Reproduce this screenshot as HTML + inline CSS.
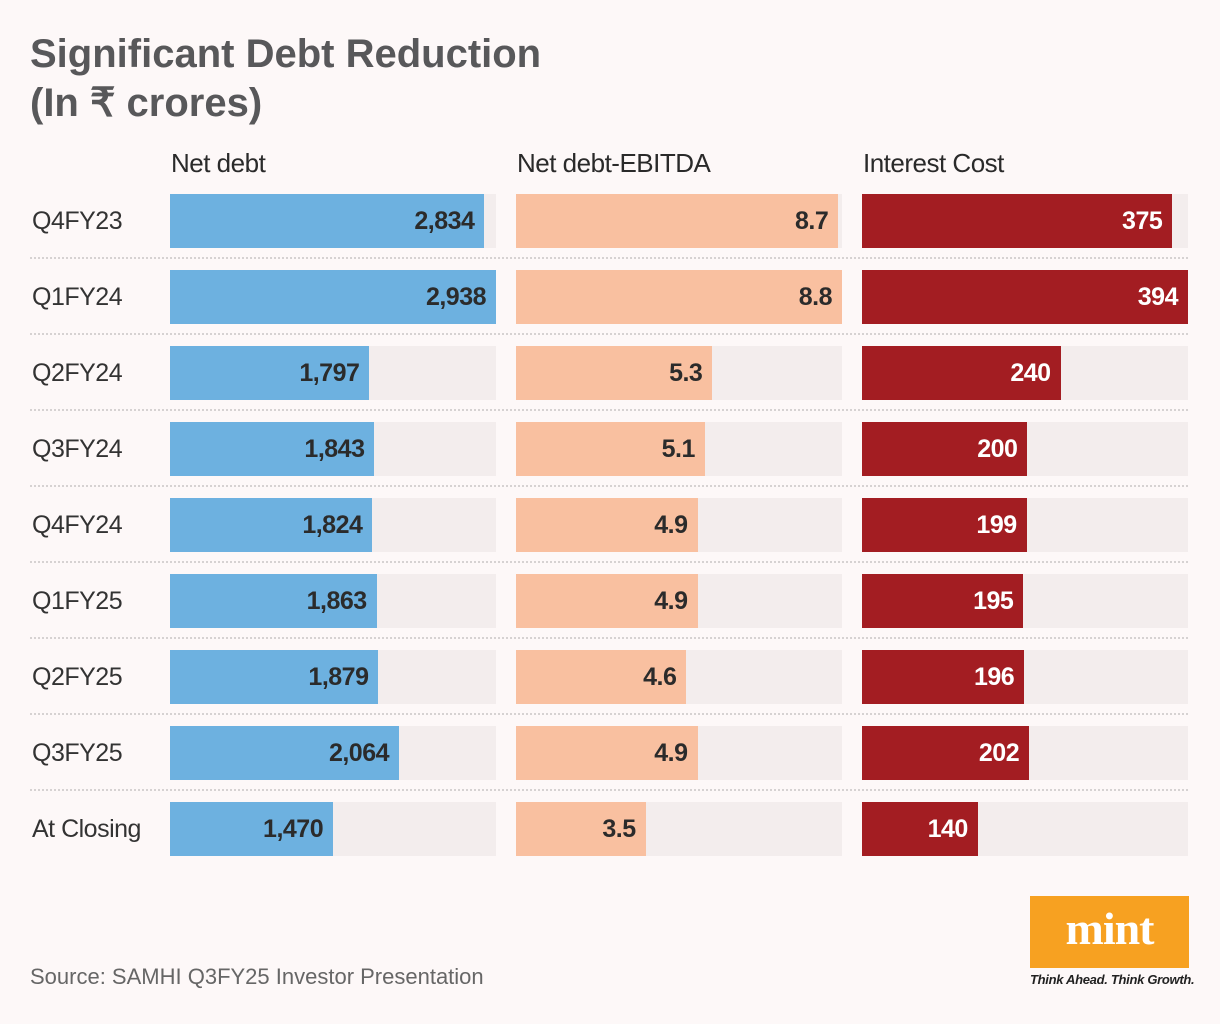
<!DOCTYPE html>
<html><head><meta charset="utf-8"><style>
body{margin:0;background:#fdf8f8;font-family:"Liberation Sans",sans-serif;}
#wrap{position:relative;width:1220px;height:1024px;overflow:hidden;background:#fdf8f8;}
.t{position:absolute;left:30px;font-weight:bold;color:#58585a;font-size:40px;letter-spacing:0px;line-height:48px;}
.h{position:absolute;top:148px;font-size:26px;color:#2a2a2a;letter-spacing:-0.5px;}
.rl{position:absolute;left:32px;font-size:25px;color:#333;letter-spacing:-0.5px;line-height:54px;}
.tr{position:absolute;background:#f3eded;height:54px;}
.b{position:absolute;height:54px;}
.v{position:absolute;font-size:25px;font-weight:bold;color:#2b2b2b;line-height:54px;text-align:right;letter-spacing:-0.5px;}
.sep{position:absolute;left:30px;width:1158px;border-top:2px dotted #d6d2d2;}
</style></head><body><div id="wrap">
<div class="t" style="top:30px">Significant Debt Reduction</div>
<div class="t" style="top:79px">(In ₹ crores)</div>
<div class="h" style="left:171px">Net debt</div>
<div class="h" style="left:517px">Net debt-EBITDA</div>
<div class="h" style="left:863px">Interest Cost</div>
<div id="rows"></div>
<div style="position:absolute;left:30px;top:964px;font-size:22px;color:#666;">Source: SAMHI Q3FY25 Investor Presentation</div>
<div style="position:absolute;left:1030px;top:896px;width:159px;height:72px;background:#f7a121;color:#fff;font-family:'Liberation Serif',serif;font-weight:bold;font-size:46px;text-align:center;line-height:66px;letter-spacing:-1px;">mint</div>
<div style="position:absolute;left:1030px;top:972px;font-size:13px;font-style:italic;color:#222;font-weight:bold;letter-spacing:-0.3px;">Think Ahead. Think Growth.</div>
</div>
<script>
const categories=["Q4FY23","Q1FY24","Q2FY24","Q3FY24","Q4FY24","Q1FY25","Q2FY25","Q3FY25","At Closing"];
const netDebt=[2834,2938,1797,1843,1824,1863,1879,2064,1470];
const netDebtLabels=["2,834","2,938","1,797","1,843","1,824","1,863","1,879","2,064","1,470"];
const debtEbitda=[8.7,8.8,5.3,5.1,4.9,4.9,4.6,4.9,3.5];
const debtEbitdaLabels=["8.7","8.8","5.3","5.1","4.9","4.9","4.6","4.9","3.5"];
const interestCost=[375,394,240,200,199,195,196,202,140];
const interestLabels=["375","394","240","200","199","195","196","202","140"];
const rows=document.getElementById('rows');
const W=326,top0=194,step=76;
const cols=[
 {x:170,vals:netDebt,labs:netDebtLabels,color:'#6db1e0',tc:'#2b2b2b',name:'net-debt'},
 {x:516,vals:debtEbitda,labs:debtEbitdaLabels,color:'#f9c0a0',tc:'#2b2b2b',name:'net-debt-ebitda'},
 {x:862,vals:interestCost,labs:interestLabels,color:'#a31d22',tc:'#fff',name:'interest-cost'}];
cols.forEach(c=>c.max=Math.max(...c.vals));
function add(cls,style,text){const d=document.createElement('div');d.className=cls;Object.assign(d.style,style);if(text!=null)d.textContent=text;rows.appendChild(d);return d;}
categories.forEach((cat,i)=>{
 const y=top0+i*step;
 const l=add('rl',{top:y+'px'},cat);
 
 
 if(i<categories.length-1){const s=add('sep',{top:(y+63)+'px'});
  
  }
 cols.forEach(c=>{
  const t=add('tr',{left:c.x+'px',top:y+'px',width:W+'px'});
  
  
  const w=c.vals[i]/c.max*W;
  const b=add('b',{left:c.x+'px',top:y+'px',width:w+'px',background:c.color});
  
  
  const v=add('v',{left:c.x+'px',top:y+'px',width:(w-10)+'px',color:c.tc},c.labs[i]);
  
  
 });
});
</script></body></html>
